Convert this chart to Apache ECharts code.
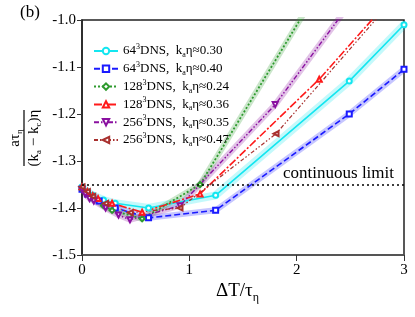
<!DOCTYPE html>
<html><head><meta charset="utf-8">
<script src="https://cdn.jsdelivr.net/npm/echarts@6/dist/echarts.min.js"></script>
<style>html,body{margin:0;padding:0;background:#fff}#c{width:415px;height:317px}</style>
</head><body><div id="c"></div>
<script>
// ---- data ----
const names = ['64-0.30','64-0.40','128-0.24','128-0.36','256-0.35','256-0.47'];
const legendLabels = [
  '{n|64}{sup|3}{n|DNS,  k}{sub|a}{n|η≈0.30}',
  '{n|64}{sup|3}{n|DNS,  k}{sub|a}{n|η≈0.40}',
  '{n|128}{sup|3}{n|DNS,  k}{sub|a}{n|η≈0.24}',
  '{n|128}{sup|3}{n|DNS,  k}{sub|a}{n|η≈0.36}',
  '{n|256}{sup|3}{n|DNS,  k}{sub|a}{n|η≈0.35}',
  '{n|256}{sup|3}{n|DNS,  k}{sub|a}{n|η≈0.47}'
];
const x64a = [0, 0.05, 0.1, 0.2, 0.31, 0.62, 1.245, 2.49, 3.0];
const y64a = [-1.355, -1.365, -1.373, -1.383, -1.39, -1.40, -1.373, -1.13, -1.01];
const x64b = [0, 0.05, 0.1, 0.16, 0.31, 0.62, 1.245, 2.49, 3.0];
const y64b = [-1.36, -1.37, -1.378, -1.385, -1.40, -1.421, -1.405, -1.20, -1.105];
const x128a = [0, 0.05, 0.1, 0.2, 0.28, 0.56, 1.1, 2.2];
const y128a = [-1.36, -1.37, -1.38, -1.395, -1.405, -1.423, -1.35, -0.936];
const x128b = [0, 0.05, 0.1, 0.15, 0.28, 0.56, 1.1, 2.21, 3.0];
const y128b = [-1.355, -1.365, -1.374, -1.38, -1.39, -1.409, -1.37, -1.126, -0.923];
const x256a = [0, 0.03, 0.07, 0.11, 0.22, 0.34, 0.447, 0.913, 1.80, 3.0];
const y256a = [-1.36, -1.37, -1.38, -1.385, -1.40, -1.415, -1.425, -1.395, -1.18, -0.81];
const x256b = [0, 0.05, 0.1, 0.22, 0.45, 0.913, 1.808, 3.0];
const y256b = [-1.355, -1.365, -1.375, -1.39, -1.41, -1.40, -1.242, -0.93];
const limitY = -1.35;
const xTicks = [0, 1, 2, 3];
const yTicks = [-1.5, -1.4, -1.3, -1.2, -1.1, -1.0];

const xs = [x64a, x64b, x128a, x128b, x256a, x256b];
const ys = [y64a, y64b, y128a, y128b, y256a, y256b];
const colors = ['#14e6f0', '#1a1aff', '#2e9a2e', '#ff1a1a', '#8a10a0', '#a8302e'];
const symbols = ['emptyCircle', 'emptyRect', 'emptyDiamond', 'emptyTriangle', 'emptyTriangle', 'emptyTriangle'];
const rotates = [0, 0, 0, 0, 180, 90];
const dashes = ['solid', [6, 3], [2, 2], [8, 2, 2, 2], [5, 2, 1.5, 2, 1.5, 2], [4, 2, 1.5, 2, 1.5, 2]];
const widths = [1.6, 1.6, 1.8, 1.6, 1.4, 1.2];
const bands = [true, true, true, false, true, false];
const bandW = [8, 6, 6, 0, 6, 0];

const zip = (a, b) => a.map((v, i) => [v, b[i]]);
const serif = 'Liberation Serif';
const series = [];
names.forEach((n, i) => {
  if (bands[i]) series.push({
    name: 'band' + i, type: 'line', data: zip(xs[i], ys[i]), symbol: 'none', silent: true,
    lineStyle: { color: colors[i], width: bandW[i], opacity: 0.25 }, z: 1
  });
});
names.forEach((n, i) => {
  series.push({
    name: n, type: 'line', data: zip(xs[i], ys[i]), symbol: symbols[i], symbolSize: 5,
    symbolRotate: rotates[i], showAllSymbol: true,
    itemStyle: { color: colors[i], borderWidth: 1.2 },
    lineStyle: { color: colors[i], width: widths[i], type: dashes[i] }, z: 3
  });
});
series.push({
  name: 'limit', type: 'line', data: [], markLine: {
    silent: true, symbol: 'none', data: [{ yAxis: limitY }],
    lineStyle: { color: '#000', type: [2, 3], width: 1.5 },
    label: { show: true, formatter: 'continuous limit', position: 'insideEndTop', color: '#000',
      fontFamily: serif, fontSize: 17, distance: [10, 2] }
  }
});

const chart = echarts.init(document.getElementById('c'));
chart.setOption({
  animation: false,
  grid: { left: 82, right: 11, top: 20, bottom: 62, show: true, borderColor: '#222', borderWidth: 1.5 },
  xAxis: { type: 'value', min: xTicks[0], max: xTicks[xTicks.length - 1], interval: 1,
    axisLine: { onZero: false, lineStyle: { color: '#555', width: 1.5 } },
    axisTick: { show: true, length: 6, lineStyle: { color: '#333' } }, splitLine: { show: false },
    axisLabel: { color: '#000', fontFamily: serif, fontSize: 15, margin: 8 } },
  yAxis: { type: 'value', min: yTicks[0], max: yTicks[yTicks.length - 1], interval: 0.1,
    axisLine: { show: true, onZero: false, lineStyle: { color: '#222', width: 1.5 } },
    axisTick: { show: true, length: 5, lineStyle: { color: '#333' } }, splitLine: { show: false },
    axisLabel: { color: '#000', fontFamily: serif, fontSize: 15, margin: 6, formatter: v => v.toFixed(1) } },
  legend: {
    data: names, orient: 'vertical', left: 88, top: 38, itemWidth: 24, itemHeight: 8, itemGap: 1.8,
    formatter: n => legendLabels[names.indexOf(n)],
    textStyle: { fontFamily: serif, color: '#000', rich: {
      n: { fontFamily: serif, fontSize: 13, lineHeight: 16, verticalAlign: 'middle', color: '#000' },
      sup: { fontFamily: serif, fontSize: 8, lineHeight: 16, verticalAlign: 'top', color: '#000' },
      sub: { fontFamily: serif, fontSize: 8, lineHeight: 16, verticalAlign: 'bottom', color: '#000' }
    } }
  },
  graphic: [
    { type: 'text', left: 20, top: 4, style: { text: '(b)', fontFamily: serif, fontSize: 17, fill: '#000' } },
    { type: 'text', left: 216, top: 282, style: {
      text: '{m|ΔT/τ}{s|η}', rich: {
        m: { fontFamily: serif, fontSize: 19, lineHeight: 25, verticalAlign: 'middle', fill: '#000' },
        s: { fontFamily: serif, fontSize: 12, lineHeight: 25, verticalAlign: 'bottom', fill: '#000' } } } },
    { type: 'group', x: 24, y: 138, rotation: Math.PI / 2, children: [
      { type: 'text', x: 0, y: -9, style: { text: '{m|aτ}{s|η}', align: 'center', verticalAlign: 'middle',
        rich: { m: { fontFamily: serif, fontSize: 15, lineHeight: 18, verticalAlign: 'middle', fill: '#000' },
                s: { fontFamily: serif, fontSize: 9, lineHeight: 18, verticalAlign: 'bottom', fill: '#000' } } } },
      { type: 'line', shape: { x1: -28, y1: 0, x2: 28, y2: 0 }, style: { stroke: '#000', lineWidth: 1.2 } },
      { type: 'text', x: 0, y: 10, style: { text: '{m|(k}{s|a}{m| − k}{s|c}{m|)η}', align: 'center', verticalAlign: 'middle',
        rich: { m: { fontFamily: serif, fontSize: 15, lineHeight: 18, verticalAlign: 'middle', fill: '#000' },
                s: { fontFamily: serif, fontSize: 9, lineHeight: 18, verticalAlign: 'bottom', fill: '#000' } } } }
    ] }
  ],
  series: series
});
</script></body></html>
